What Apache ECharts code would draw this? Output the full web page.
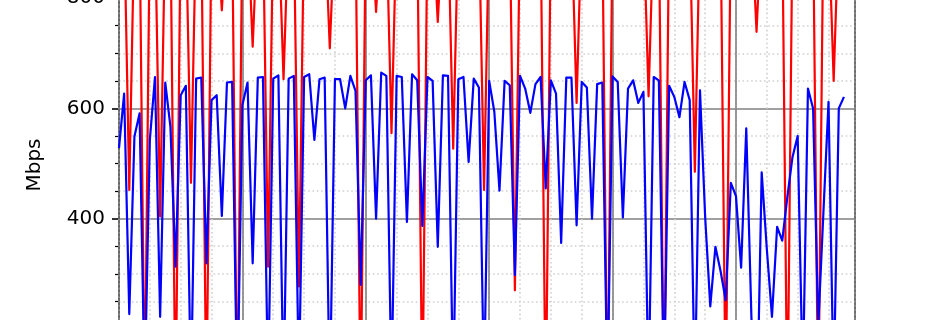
<!DOCTYPE html>
<html><head><meta charset="utf-8">
<script src="https://cdn.jsdelivr.net/npm/echarts@6/dist/echarts.min.js"></script>
<style>html,body{margin:0;padding:0;background:#fff;overflow:hidden;width:950px;height:320px}
#c{position:absolute;left:0;top:-130px;width:950px;height:720px}</style>
</head><body><div id="c"></div>
<script>
// sample index is the x value (one sample per step)
const blueValues = [
  528, 627, 227, 549, 591, 90, 543, 657, 222, 647,
  567, 313, 624, 641, 80, 654, 656, 319, 615, 624,
  405, 647, 648, 70, 606, 647, 319, 656, 657, 90,
  654, 660, 80, 654, 659, 100, 657, 662, 543, 653,
  656, 70, 653, 653, 600, 659, 632, 280, 651, 660,
  400, 665, 659, 90, 659, 657, 394, 662, 651, 387,
  657, 650, 349, 660, 659, 80, 653, 657, 503, 654,
  638, 90, 650, 594, 451, 650, 642, 298, 659, 636,
  592, 644, 657, 455, 651, 627, 356, 656, 656, 388,
  648, 638, 400, 644, 647, 80, 658, 648, 402, 636,
  651, 610, 630, 80, 657, 651, 90, 641, 621, 584,
  648, 615, 80, 633, 404, 241, 349, 305, 252, 465,
  441, 311, 564, 222, 0, 484, 345, 222, 385, 360,
  440, 512, 550, 100, 636, 600, 205, 410, 612, 90,
  600, 621
];
const redValues = [
  940, 940, 452, 940, 940, 60, 940, 940, 404, 940,
  940, 40, 940, 940, 465, 940, 940, 50, 940, 940,
  778, 940, 940, 30, 940, 940, 712, 940, 940, 313,
  940, 940, 653, 940, 940, 277, 940, 940, 940, 940,
  940, 709, 940, 940, 940, 940, 940, 40, 940, 940,
  775, 940, 940, 555, 940, 940, 940, 940, 940, 50,
  940, 940, 757, 940, 940, 527, 940, 940, 940, 940,
  940, 452, 940, 940, 940, 940, 940, 270, 940, 940,
  940, 940, 940, 40, 940, 940, 940, 940, 940, 610,
  940, 940, 940, 940, 940, 30, 940, 940, 940, 940,
  940, 940, 940, 622, 940, 940, 40, 940, 940, 940,
  940, 940, 485, 940, 940, 940, 940, 940, 60, 940,
  940, 940, 940, 940, 739, 940, 940, 940, 940, 940,
  30, 940, 940, 940, 940, 940, 40, 940, 940, 650,
  940, 940
];
const yAxisName = 'Mbps';
const yMin = 0, yMax = 1000, yStep = 200;
const xMin = 0, xMax = 143.15, xMajor = 24, xMinor = 6;

const toPairs = arr => arr.map((v, i) => [i, v]);
const FONT = 'DejaVu Sans';
const SHIFT = 130; // container is shifted up by this many px

const chart = echarts.init(document.getElementById('c'), null, {renderer: 'canvas'});
chart.setOption({
  animation: false,
  backgroundColor: '#ffffff',
  grid: {left: 119, width: 736, top: -112.1 + SHIFT, height: 551.3, show: true,
         outerBoundsMode: 'none', containLabel: false,
         borderColor: '#000', borderWidth: 1.6, backgroundColor: 'transparent'},
  xAxis: [
    {type: 'value', min: xMin, max: xMax, interval: xMajor, z: 2,
     axisLine: {show: false}, axisTick: {show: false}, axisLabel: {show: false},
     splitLine: {show: true, lineStyle: {color: '#808080', width: 1.6}}},
    {type: 'value', min: xMin, max: xMax, interval: xMinor, z: 1, position: 'top',
     axisLine: {show: false}, axisTick: {show: false}, axisLabel: {show: false},
     splitLine: {show: true, lineStyle: {color: '#d0d0d0', width: 1.6, type: [1.6, 2.7]}}}
  ],
  yAxis: {
    type: 'value', min: yMin, max: yMax, interval: yStep,
    axisLine: {show: true, lineStyle: {color: '#000', width: 1.6}},
    axisTick: {show: true, inside: false, length: 7, lineStyle: {color: '#000', width: 1.6}},
    minorTick: {show: true, splitNumber: 4, length: 4, lineStyle: {color: '#000', width: 1.2}},
    axisLabel: {show: true, margin: 14, color: '#000', fontFamily: FONT, fontSize: 20},
    splitLine: {show: true, lineStyle: {color: '#808080', width: 1.6}},
    minorSplitLine: {show: true, lineStyle: {color: '#d0d0d0', width: 1.6, type: [1.6, 2.7]}}
  },
  graphic: [{
    type: 'text', x: 35, y: 165 + SHIFT, rotation: Math.PI / 2,
    style: {text: yAxisName, fontFamily: FONT, fontSize: 20, fill: '#000',
            align: 'center', verticalAlign: 'middle'}
  }],
  series: [
    {type: 'line', data: toPairs(redValues), xAxisIndex: 0, symbol: 'none', clip: true,
     lineStyle: {color: '#ff0000', width: 2.2, join: 'round'}, z: 3},
    {type: 'line', data: toPairs(blueValues), xAxisIndex: 0, symbol: 'none', clip: true,
     lineStyle: {color: '#0000ff', width: 2.2, join: 'round'}, z: 4}
  ]
});
</script></body></html>
